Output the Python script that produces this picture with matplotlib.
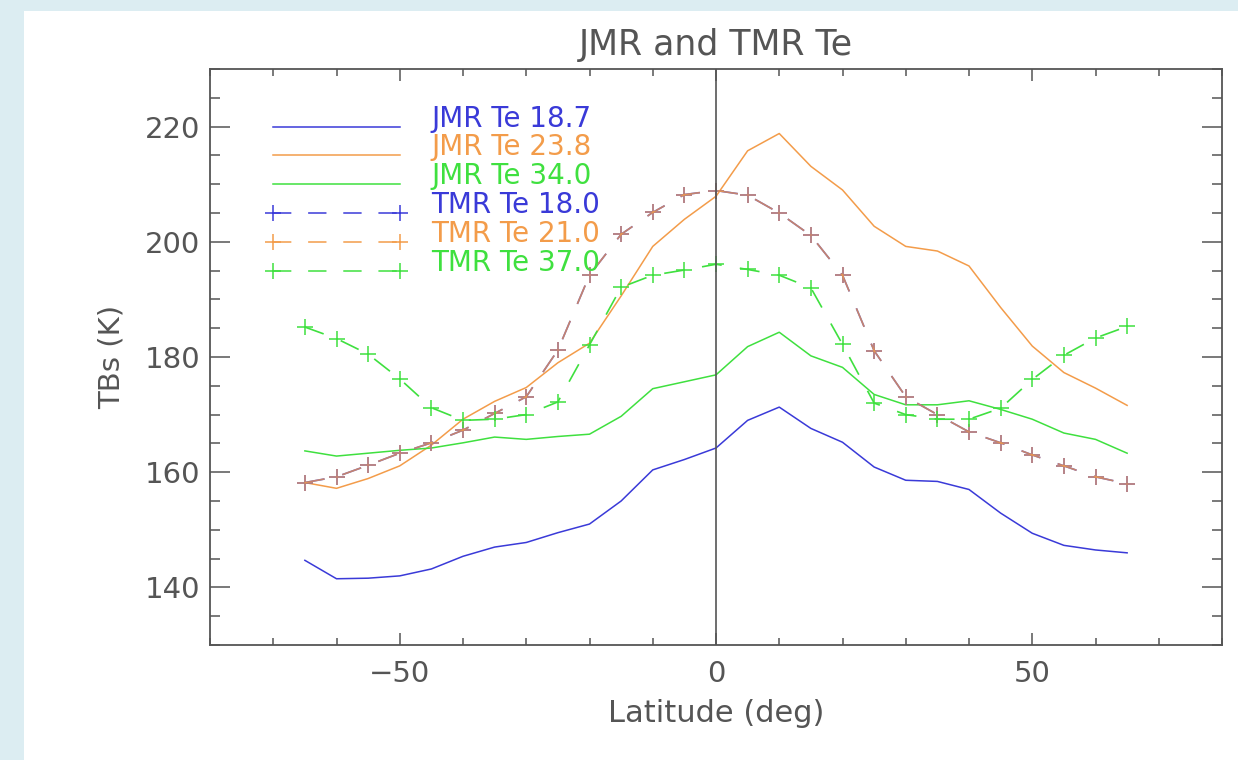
import matplotlib
matplotlib.use("Agg")
import matplotlib.pyplot as plt
from matplotlib.patches import Rectangle
from matplotlib.ticker import MultipleLocator

# latitude grid (deg)
lat = [-65, -60, -55, -50, -45, -40, -35, -30, -25, -20, -15, -10, -5, 0,
       5, 10, 15, 20, 25, 30, 35, 40, 45, 50, 55, 60, 65]

# JMR channels (solid)
jmr_187 = [144.7, 141.5, 141.6, 142.0, 143.2, 145.4, 147.0, 147.8, 149.5, 151.0,
           155.0, 160.4, 162.2, 164.2, 169.0, 171.3, 167.6, 165.2, 160.9, 158.6,
           158.4, 157.0, 152.9, 149.4, 147.3, 146.5, 146.0]
jmr_238 = [158.2, 157.2, 158.9, 161.1, 164.7, 169.2, 172.3, 174.7, 179.0, 182.4,
           190.6, 199.2, 203.9, 207.9, 215.8, 218.8, 213.1, 209.0, 202.7, 199.2,
           198.4, 195.8, 188.6, 181.9, 177.3, 174.6, 171.6]
jmr_340 = [163.7, 162.8, 163.3, 163.8, 164.2, 165.1, 166.1, 165.7, 166.2, 166.6,
           169.7, 174.5, 175.7, 176.9, 181.8, 184.3, 180.2, 178.2, 173.5, 171.7,
           171.7, 172.4, 170.9, 169.2, 166.8, 165.7, 163.3]

# TMR channels (dashed with +)
tmr_180 = [158.2, 159.2, 161.2, 163.3, 165.1, 167.3, 170.2, 173.1, 181.2, 194.2,
           201.3, 205.1, 208.2, 208.9, 208.1, 205.0, 201.1, 194.2, 181.1, 173.1,
           170.0, 167.0, 165.1, 163.0, 161.1, 159.2, 158.0]
tmr_210 = [158.2, 159.2, 161.2, 163.3, 165.1, 167.3, 170.2, 173.1, 181.2, 194.2,
           201.3, 205.1, 208.2, 208.9, 208.1, 205.0, 201.1, 194.2, 181.1, 173.1,
           170.0, 167.0, 165.1, 163.0, 161.1, 159.2, 158.0]
tmr_370 = [185.2, 183.2, 180.5, 176.2, 171.2, 169.0, 169.2, 170.0, 172.2, 182.1,
           192.1, 194.2, 195.1, 196.1, 195.2, 194.2, 192.0, 182.2, 172.0, 170.0,
           169.2, 169.2, 171.1, 176.1, 180.3, 183.3, 185.3]

names = ["JMR Te 18.7", "JMR Te 23.8", "JMR Te 34.0",
         "TMR Te 18.0", "TMR Te 21.0", "TMR Te 37.0"]

BLUE = "#3a3ad8"
ORANGE = "#f39c4a"
GREEN = "#3fe03f"
GRAY = "#555555"
DASH = (0, (12, 11))

plt.rcParams["font.family"] = ["DejaVu Sans"]

fig = plt.figure(figsize=(12.38, 7.6), dpi=100)
fig.patch.set_facecolor("#dcedf2")
fig.patches.append(Rectangle((24 / 1238, 0), 1, (760 - 11) / 760,
                             transform=fig.transFigure, facecolor="white",
                             edgecolor="none", zorder=-10))

ax = fig.add_axes([210 / 1238, 1 - 645 / 760, (1222 - 210) / 1238, (645 - 69) / 760])
ax.set_facecolor("white")

ax.plot(lat, jmr_187, color=BLUE, lw=1.1)
ax.plot(lat, jmr_238, color=ORANGE, lw=1.1)
ax.plot(lat, jmr_340, color=GREEN, lw=1.1)
ax.plot(lat, tmr_180, color=BLUE, lw=1.2, ls=DASH, marker="+", ms=11, mew=1.1)
# 21 GHz sits on top of 18 GHz, giving the brownish overlap
ax.plot(lat, tmr_210, color=ORANGE, lw=1.2, ls=DASH, marker="+", ms=11, mew=1.1,
        alpha=0.75)
ax.plot(lat, tmr_370, color=GREEN, lw=1.2, ls=DASH, marker="+", ms=11, mew=1.1)

ax.axvline(0, color=GRAY, lw=1.2)

# hand-drawn legend, IDL style
styles = [dict(ls="-"), dict(ls="-"), dict(ls="-"),
          dict(ls=DASH, marker="+", ms=11, mew=1.1),
          dict(ls=DASH, marker="+", ms=11, mew=1.1),
          dict(ls=DASH, marker="+", ms=11, mew=1.1)]
cols = [BLUE, ORANGE, GREEN, BLUE, ORANGE, GREEN]
for i, (nm, c, st) in enumerate(zip(names, cols, styles)):
    yy = 220 - 5 * i
    ax.plot([-70, -50], [yy, yy], color=c, lw=1.1, **st)
    ax.text(-45, yy, nm, color=c, fontsize=20, va="baseline", ha="left")

ax.set_xlim(-80, 80)
ax.set_ylim(130, 230)
ax.set_xticks([-50, 0, 50])
ax.xaxis.set_minor_locator(MultipleLocator(10))
ax.set_yticks([140, 160, 180, 200, 220])
ax.yaxis.set_minor_locator(MultipleLocator(5))

ax.tick_params(which="both", direction="in", top=True, right=True,
               colors=GRAY, width=1.1, labelsize=21, labelcolor=GRAY)
ax.tick_params(axis="x", which="major", length=8.6, pad=11)
ax.tick_params(axis="x", which="minor", length=5)
ax.tick_params(axis="y", which="major", length=14.4, pad=7)
ax.tick_params(axis="y", which="minor", length=7.2)
for sp in ax.spines.values():
    sp.set_color(GRAY)
    sp.set_linewidth(1.3)

ax.set_xlabel("Latitude (deg)", fontsize=22, color=GRAY, labelpad=8)
ax.set_ylabel("TBs (K)", fontsize=21, color=GRAY, labelpad=14)
fig.text(716 / 1238, 1 - 45 / 760, "JMR and TMR Te", fontsize=25, color=GRAY,
         ha="center", va="center")

fig.savefig("out.png", dpi=100, facecolor=fig.get_facecolor())
